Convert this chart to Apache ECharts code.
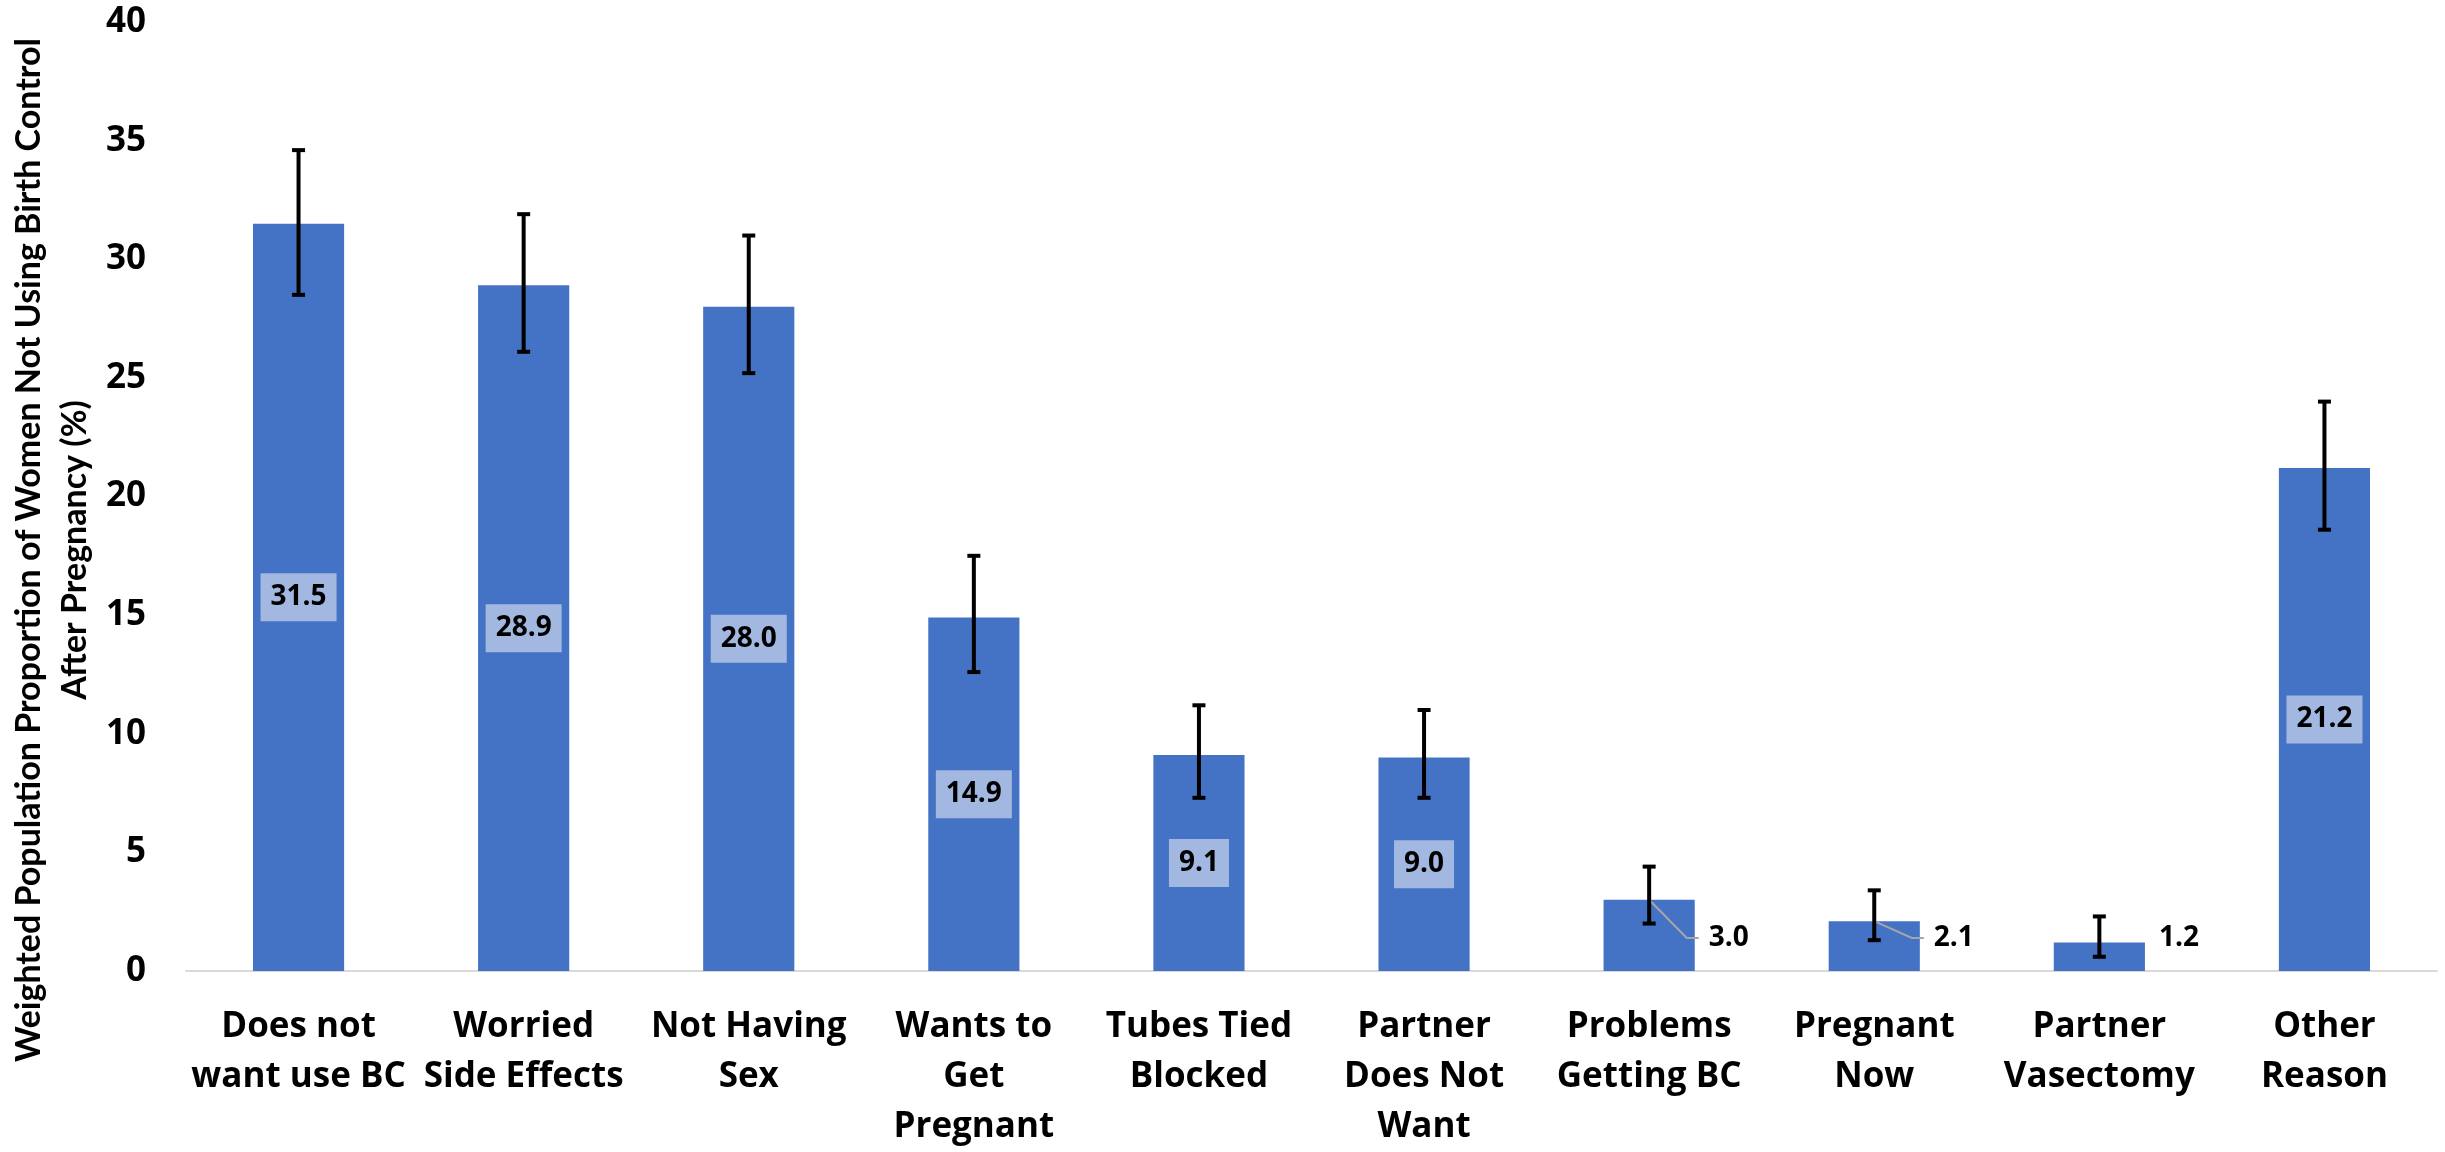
<!DOCTYPE html>
<html>
<head>
<meta charset="utf-8">
<script src="https://cdn.jsdelivr.net/npm/echarts@6/dist/echarts.min.js"></script>
<style>
html,body{margin:0;padding:0;background:#fff;}
#chart{width:2445px;height:1152px;}
</style>
</head>
<body>
<div id="chart"></div>
<script>
var categories = ['Does not\nwant use BC', 'Worried\nSide Effects', 'Not Having\nSex', 'Wants to\nGet\nPregnant', 'Tubes Tied\nBlocked', 'Partner\nDoes Not\nWant', 'Problems\nGetting BC', 'Pregnant\nNow', 'Partner\nVasectomy', 'Other\nReason'];
var values = [31.5, 28.9, 28.0, 14.9, 9.1, 9.0, 3.0, 2.1, 1.2, 21.2];
var ciLow = [28.5, 26.1, 25.2, 12.6, 7.3, 7.3, 2.0, 1.3, 0.6, 18.6];
var ciHigh = [34.6, 31.9, 31.0, 17.5, 11.2, 11.0, 4.4, 3.4, 2.3, 24.0];
var yTicks = [0, 5, 10, 15, 20, 25, 30, 35, 40];
var yTitle = 'Weighted Population Proportion of Women Not Using Birth Control\nAfter Pregnancy (%)';

var BAR_FRAC = 0.405;
var OUTSIDE_LIMIT = 5;
var OUT_LABEL_RISE = 33;
var FONT = '"Open Sans", "Noto Sans", sans-serif';

var barData = values.map(function (v) {
  if (v < OUTSIDE_LIMIT) {
    return {value: v, label: {show: false}};
  }
  return v;
});
var errData = values.map(function (v, i) { return [i, ciLow[i], ciHigh[i]]; });
var outData = [];
values.forEach(function (v, i) { if (v < OUTSIDE_LIMIT) outData.push([i, v]); });

var chart = echarts.init(document.getElementById('chart'), null, {renderer: 'canvas'});
chart.setOption({
  backgroundColor: '#fff',
  animation: false,
  grid: {left: 186, right: 8, top: 22, bottom: 181, containLabel: false},
  xAxis: {
    type: 'category',
    data: categories,
    axisLine: {show: true, lineStyle: {color: '#D9D9D9', width: 2}},
    axisTick: {show: false},
    axisLabel: {
      interval: 0, margin: 31, color: '#000', fontFamily: FONT, fontWeight: 'bold',
      fontSize: 35, lineHeight: 50
    }
  },
  yAxis: {
    type: 'value', min: yTicks[0], max: yTicks[yTicks.length - 1], interval: yTicks[1] - yTicks[0],
    axisLine: {show: false}, axisTick: {show: false}, splitLine: {show: false},
    axisLabel: {margin: 40, color: '#000', fontFamily: FONT, fontWeight: 'bold', fontSize: 35}
  },
  graphic: [{
    type: 'text', x: 52, y: 550, rotation: Math.PI / 2,
    style: {
      text: yTitle, fill: '#000', fontFamily: 'Lato, "Open Sans", sans-serif', fontWeight: 'bold',
      fontSize: 34, lineHeight: 46, align: 'center', verticalAlign: 'middle'
    }
  }],
  series: [
    {
      type: 'bar',
      data: barData,
      barCategoryGap: ((1 - BAR_FRAC) * 100) + '%',
      itemStyle: {color: '#4472C4'},
      z: 2,
      label: {
        show: true, position: 'inside',
        formatter: function (p) { return Number(p.value).toFixed(1); },
        color: '#000', fontFamily: FONT, fontWeight: 'bold', fontSize: 28, lineHeight: 30,
        backgroundColor: '#A2B8E1', padding: [9, 10]
      }
    },
    {
      type: 'custom',
      data: outData,
      z: 3,
      silent: true,
      encode: {x: 0, y: 1},
      renderItem: function (params, api) {
        var i = api.value(0);
        var v = api.value(1);
        var top = api.coord([i, v]);
        var base = api.coord([i, 0]);
        var halfBar = api.size([1, 0])[0] * BAR_FRAC / 2;
        var ly = base[1] - OUT_LABEL_RISE;
        var children = [];
        if (Math.abs(ly - top[1]) >= 10) {
          children.push({
            type: 'polyline',
            shape: {points: [[top[0], top[1]], [top[0] + halfBar - 8, ly], [top[0] + halfBar + 4, ly]]},
            style: {stroke: '#A6A6A6', lineWidth: 2, fill: null}
          });
        }
        children.push({
          type: 'text',
          x: top[0] + halfBar + 14, y: ly,
          style: {
            text: Number(v).toFixed(1), fill: '#000', fontFamily: FONT, fontWeight: 'bold',
            fontSize: 28, align: 'left', verticalAlign: 'middle'
          }
        });
        return {type: 'group', children: children};
      }
    },
    {
      type: 'custom',
      data: errData,
      z: 4,
      silent: true,
      encode: {x: 0, y: [1, 2]},
      renderItem: function (params, api) {
        var i = api.value(0);
        var lo = api.coord([i, api.value(1)]);
        var hi = api.coord([i, api.value(2)]);
        var hw = 6.5;
        var st = {stroke: '#000', lineWidth: 4};
        return {
          type: 'group',
          children: [
            {type: 'line', shape: {x1: hi[0], y1: hi[1], x2: lo[0], y2: lo[1]}, style: st},
            {type: 'line', shape: {x1: hi[0] - hw, y1: hi[1], x2: hi[0] + hw, y2: hi[1]}, style: st},
            {type: 'line', shape: {x1: lo[0] - hw, y1: lo[1], x2: lo[0] + hw, y2: lo[1]}, style: st}
          ]
        };
      }
    }
  ]
});
</script>
</body>
</html>
